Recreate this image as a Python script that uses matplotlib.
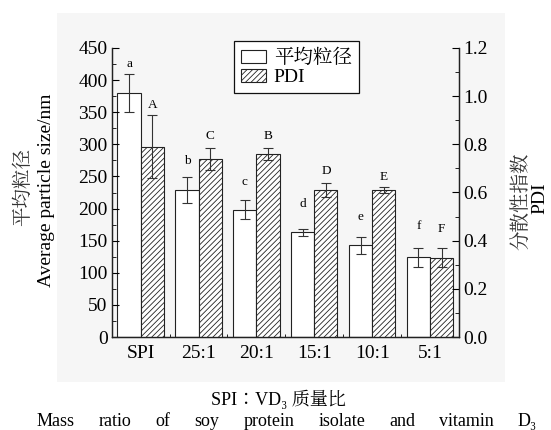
import matplotlib
matplotlib.use("Agg")
import numpy as np
import matplotlib.pyplot as plt
from matplotlib.patches import Rectangle, Patch
from matplotlib.ticker import MultipleLocator, FixedLocator

# mass ratio groups
groups = ["SPI", "25:1", "20:1", "15:1", "10:1", "5:1"]

# mean particle size (nm) and SD
size_mean = [380, 229, 198, 163, 143, 124]
size_err = [30, 20, 15, 5, 13, 15]
size_letters = ["a", "b", "c", "d", "e", "f"]

# polydispersity index and SD
pdi_mean = [0.79, 0.74, 0.76, 0.61, 0.61, 0.33]
pdi_err = [0.13, 0.045, 0.025, 0.03, 0.012, 0.04]
pdi_letters = ["A", "C", "B", "D", "E", "F"]

SERIF = ["Liberation Serif", "Noto Serif CJK SC", "DejaVu Serif"]
CJK = ["Noto Serif CJK SC", "Liberation Serif", "DejaVu Serif"]

plt.rcParams["font.family"] = SERIF
plt.rcParams["hatch.linewidth"] = 0.6
plt.rcParams["hatch.color"] = "#333333"

fig = plt.figure(figsize=(5.51, 4.30), dpi=100)
fig.patch.set_facecolor("white")
fig.patches.append(Rectangle((57 / 551, 1 - 382 / 430), 448 / 551, 369 / 430,
                             transform=fig.transFigure, facecolor="#f6f6f6",
                             edgecolor="none", zorder=-10))

ax = fig.add_axes([111.7 / 551, 1 - 337 / 430, 347.3 / 551, 289 / 430])
ax.set_facecolor("none")
ax2 = ax.twinx()

x = np.arange(len(groups))
w = 0.4
ekw = dict(ecolor="#333333", elinewidth=0.8, capsize=3.5, capthick=0.8)

ax.bar(x - w / 2, size_mean, w, yerr=size_err, color="white",
       edgecolor="#222222", linewidth=0.8, error_kw=ekw)
ax2.bar(x + w / 2, pdi_mean, w, yerr=pdi_err, color="white",
        edgecolor="#222222", linewidth=0.8, hatch="//////", error_kw=ekw)

# significance letters above the error bars
lo_pad = [3, 7, 9, 14, 10, 11]
up_pad = [3, 4, 4, 4, 3, 9]
for i in range(len(groups)):
    ax.annotate(size_letters[i], (x[i] - w / 2, size_mean[i] + size_err[i]),
                xytext=(0, lo_pad[i]), textcoords="offset points",
                ha="center", va="bottom", fontsize=9.5)
    ax2.annotate(pdi_letters[i], (x[i] + w / 2, pdi_mean[i] + pdi_err[i]),
                 xytext=(0, up_pad[i]), textcoords="offset points",
                 ha="center", va="bottom", fontsize=9.5)

ax.set_xlim(-0.5, 5.5)
ax.set_ylim(0, 450)
ax.set_xticks(x)
ax.set_xticklabels(groups, fontsize=14)
ax.xaxis.set_minor_locator(FixedLocator(x[:-1] + 0.5))
ax.yaxis.set_major_locator(MultipleLocator(50))
ax.yaxis.set_minor_locator(MultipleLocator(25))
pdi_ticks = np.arange(0, 1.21, 0.2)
ax2.set_yticks(pdi_ticks)
ax2.set_yticklabels([f"{v:.1f}" for v in pdi_ticks])
ax2.yaxis.set_minor_locator(MultipleLocator(0.1))
ax2.set_ylim(0, 1.2)

ax.tick_params(axis="y", which="both", direction="in", labelsize=14, pad=3)
ax.tick_params(axis="y", which="major", length=5)
ax.tick_params(axis="y", which="minor", length=3)
ax.tick_params(axis="x", which="major", length=0, pad=6)
ax.tick_params(axis="x", which="minor", direction="in", length=2)
ax2.tick_params(axis="y", which="both", direction="in", labelsize=14, pad=3)
ax2.tick_params(axis="y", which="major", length=5)
ax2.tick_params(axis="y", which="minor", length=3)

for a in (ax, ax2):
    a.spines["top"].set_visible(False)
    for s in ("left", "right", "bottom"):
        a.spines[s].set_linewidth(0.9)
        a.spines[s].set_color("#222222")

leg = ax.legend(handles=[Patch(facecolor="white", edgecolor="#222222", linewidth=0.8),
                         Patch(facecolor="white", edgecolor="#222222", linewidth=0.8,
                               hatch="//////")],
                labels=["平均粒径", "PDI"], loc="upper left",
                bbox_to_anchor=(0.352, 1.024), borderaxespad=0, fancybox=False,
                framealpha=1, edgecolor="#111111",
                handlelength=1.3, handleheight=0.65, labelspacing=0.05,
                handletextpad=0.4, borderpad=0.35,
                prop={"family": CJK, "size": 14})
leg.get_frame().set_linewidth(0.9)
leg.get_texts()[1].set_fontfamily(SERIF)

# axis titles, one text per line
fig.text(23 / 551, 1 - 187 / 430, "平均粒径", rotation=90, ha="center", va="center",
         fontsize=14, family=CJK, color="#333333")
fig.text(47 / 551, 1 - 190 / 430, "Average particle size/nm", rotation=90,
         ha="center", va="center", fontsize=14)
fig.text(521 / 551, 1 - 201 / 430, "分散性指数", rotation=90, ha="center",
         va="center", fontsize=14, family=CJK, color="#333333")
fig.text(540 / 551, 1 - 198 / 430, "PDI", rotation=90, ha="center", va="center",
         fontsize=14)

# caption under the panel
fig.text(278 / 551, 1 - 399 / 430, "SPI∶VD₃ 质量比", ha="center", va="center",
         fontsize=13, family=SERIF)
words = ["Mass", "ratio", "of", "soy", "protein", "isolate", "and", "vitamin", "D₃"]
fig.canvas.draw()
r = fig.canvas.get_renderer()
tw = [fig.text(0, 0, s, fontsize=13).get_window_extent(r).width for s in words]
for t in fig.texts[-len(words):]:
    t.remove()
x0, x1 = 37, 537
gap = (x1 - x0 - sum(tw)) / (len(words) - 1)
pos = x0
for s, wd in zip(words, tw):
    fig.text(pos / 551, 1 - 421 / 430, s, ha="left", va="center", fontsize=13)
    pos += wd + gap

fig.savefig("out.png", dpi=100)
